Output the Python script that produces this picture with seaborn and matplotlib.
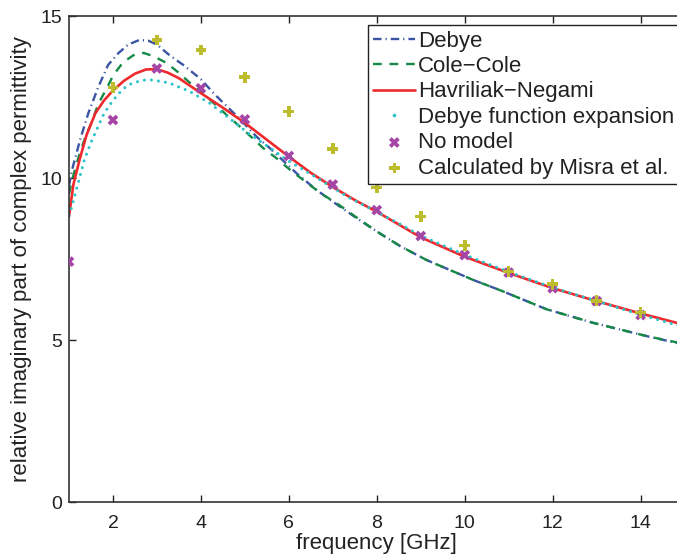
import matplotlib
matplotlib.use("Agg")
import matplotlib.pyplot as plt
from matplotlib.lines import Line2D
import seaborn as sns

# curves (frequency in GHz, relative imaginary permittivity)
debye_f = [1.0, 1.06, 1.25, 1.44, 1.67, 1.89, 2.12, 2.35, 2.6, 2.8, 3.0, 3.26, 3.45, 3.6,
           4.0, 4.3, 4.6, 4.9, 5.27, 5.57, 6.18, 6.63, 7.0, 7.5, 8.0, 8.53, 9.13, 10.2,
           10.8, 11.86, 12.92, 14.14, 14.85]
debye_e = [9.75, 10.2, 11.17, 12.0, 12.82, 13.49, 13.85, 14.12, 14.26, 14.24, 14.12, 13.82,
           13.63, 13.49, 13.05, 12.6, 12.2, 11.8, 11.27, 10.92, 10.14, 9.63, 9.27, 8.8, 8.35,
           7.9, 7.47, 6.85, 6.54, 5.95, 5.53, 5.12, 4.9]

cole_f = [1.0, 1.06, 1.21, 1.36, 1.52, 1.67, 1.86, 2.01, 2.23, 2.5, 2.7, 2.92, 3.22, 3.45,
          3.75, 4.13, 4.59, 4.96, 5.42, 5.72, 6.03, 6.48, 6.78, 7.09, 7.5, 8.0, 8.53, 9.13,
          10.2, 10.8, 11.86, 12.92, 14.14, 14.85]
cole_e = [9.5, 9.89, 10.61, 11.22, 11.74, 12.3, 12.77, 13.18, 13.57, 13.82, 13.86, 13.76,
          13.55, 13.3, 12.94, 12.51, 11.94, 11.5, 10.92, 10.61, 10.25, 9.78, 9.48, 9.22,
          8.82, 8.35, 7.9, 7.47, 6.85, 6.54, 5.95, 5.53, 5.12, 4.92]

hn_f = [1.0, 1.1, 1.25, 1.4, 1.6, 1.8, 2.0, 2.25, 2.5, 2.75, 3.0, 3.25, 3.5, 4.0, 4.5, 5.0,
        5.5, 6.0, 6.5, 7.0, 7.5, 8.0, 9.0, 10.0, 11.0, 12.0, 13.0, 14.0, 14.85]
hn_e = [8.81, 9.8, 10.61, 11.33, 12.0, 12.4, 12.7, 13.0, 13.22, 13.35, 13.36, 13.25, 13.08,
        12.62, 12.17, 11.7, 11.18, 10.66, 10.16, 9.72, 9.32, 8.96, 8.17, 7.57, 7.07, 6.6,
        6.2, 5.82, 5.52]

dfe_f = [1.0, 1.05, 1.2, 1.35, 1.5, 1.65, 1.8, 1.95, 2.1, 2.25, 2.4, 2.55, 2.7, 2.85, 3.0,
         3.15, 3.3, 3.75, 4.2, 4.65, 5.1, 5.55, 6.0, 6.5, 7.0, 7.4, 7.85, 8.5, 9.0, 10.0,
         11.0, 12.0, 13.0, 14.0, 14.85]
dfe_e = [8.85, 9.05, 9.8, 10.56, 11.1, 11.55, 12.0, 12.3, 12.56, 12.77, 12.9, 12.97, 13.02,
         13.03, 13.0, 12.97, 12.92, 12.67, 12.31, 11.84, 11.36, 10.95, 10.52, 10.12, 9.7,
         9.37, 9.06, 8.6, 8.22, 7.63, 7.1, 6.62, 6.2, 5.78, 5.45]

# point data
nomodel_f = [1, 2, 3, 4, 5, 6, 7, 8, 9, 10, 11, 12, 13, 14]
nomodel_e = [7.42, 11.79, 13.38, 12.77, 11.81, 10.68, 9.80, 9.01, 8.21, 7.62, 7.08, 6.60,
             6.20, 5.77]
misra_f = [2, 3, 4, 5, 6, 7, 8, 9, 10, 11, 12, 13, 14]
misra_e = [12.79, 14.26, 13.95, 13.11, 12.05, 10.90, 9.71, 8.81, 7.92, 7.11, 6.72, 6.21, 5.85]

labels = ["Debye", "Cole\u2212Cole", "Havriliak\u2212Negami", "Debye function expansion",
          "No model", "Calculated by Misra et al."]
colors = ["#3b54a3", "#168a45", "#ee2a2e", "#2cc3c9", "#a545a5", "#bcbc2c"]

sns.set_style("ticks")
plt.rcParams["font.family"] = ["Liberation Sans", "DejaVu Sans"]
plt.rcParams["text.color"] = "#222222"
plt.rcParams["axes.labelcolor"] = "#222222"

fig = plt.figure(figsize=(6.77, 5.56), dpi=100)
ax = fig.add_axes([0.1019, 0.0971, 0.9093, 0.8741])

sns.lineplot(x=debye_f, y=debye_e, ax=ax, color=colors[0], lw=1.7,
             linestyle=(0, (3.6, 1.7, 0.5, 1.7)), label=labels[0])
sns.lineplot(x=cole_f, y=cole_e, ax=ax, color=colors[1], lw=1.7,
             linestyle=(0, (3.7, 3.3)), label=labels[1])
sns.lineplot(x=hn_f, y=hn_e, ax=ax, color=colors[2], lw=1.9, label=labels[2])
sns.lineplot(x=dfe_f, y=dfe_e, ax=ax, color=colors[3], lw=2.2,
             linestyle=(0, (0.01, 2.3)), dash_capstyle="round", label=labels[3])
sns.scatterplot(x=nomodel_f, y=nomodel_e, ax=ax, color=colors[4], marker="X", s=60,
                edgecolor="none", label=labels[4], zorder=3)
sns.scatterplot(x=misra_f, y=misra_e, ax=ax, color=colors[5], marker="P", s=60,
                edgecolor="none", label=labels[5], zorder=3)

ax.set_xlim(1, 15)
ax.set_ylim(0, 15)
ax.set_xticks([2, 4, 6, 8, 10, 12, 14])
ax.set_yticks([0, 5, 10, 15])
ax.tick_params(direction="in", length=5, width=1, top=True, right=True,
               labelsize=14, colors="#222222", pad=5)
ax.tick_params(axis="x", pad=9)
for sp in ax.spines.values():
    sp.set_linewidth(1.2)
    sp.set_color("#333333")
ax.set_xlabel("frequency [GHz]", fontsize=16, labelpad=1)
ax.set_ylabel("relative imaginary part of complex permittivity", fontsize=16, labelpad=6)

handles, _ = ax.get_legend_handles_labels()
handles[3] = Line2D([], [], ls="none", marker="o", ms=2.6, color=colors[3], mec="none")
leg = ax.legend(handles, labels, loc="upper left", bbox_to_anchor=(0.4852, 0.9815),
                borderaxespad=0, fontsize=16, handlelength=1.9, handletextpad=0.12,
                labelspacing=0.2, borderpad=0.25, fancybox=False, framealpha=1,
                edgecolor="#222222")
leg.get_frame().set_linewidth(1.0)

fig.savefig("out.png", dpi=100)
